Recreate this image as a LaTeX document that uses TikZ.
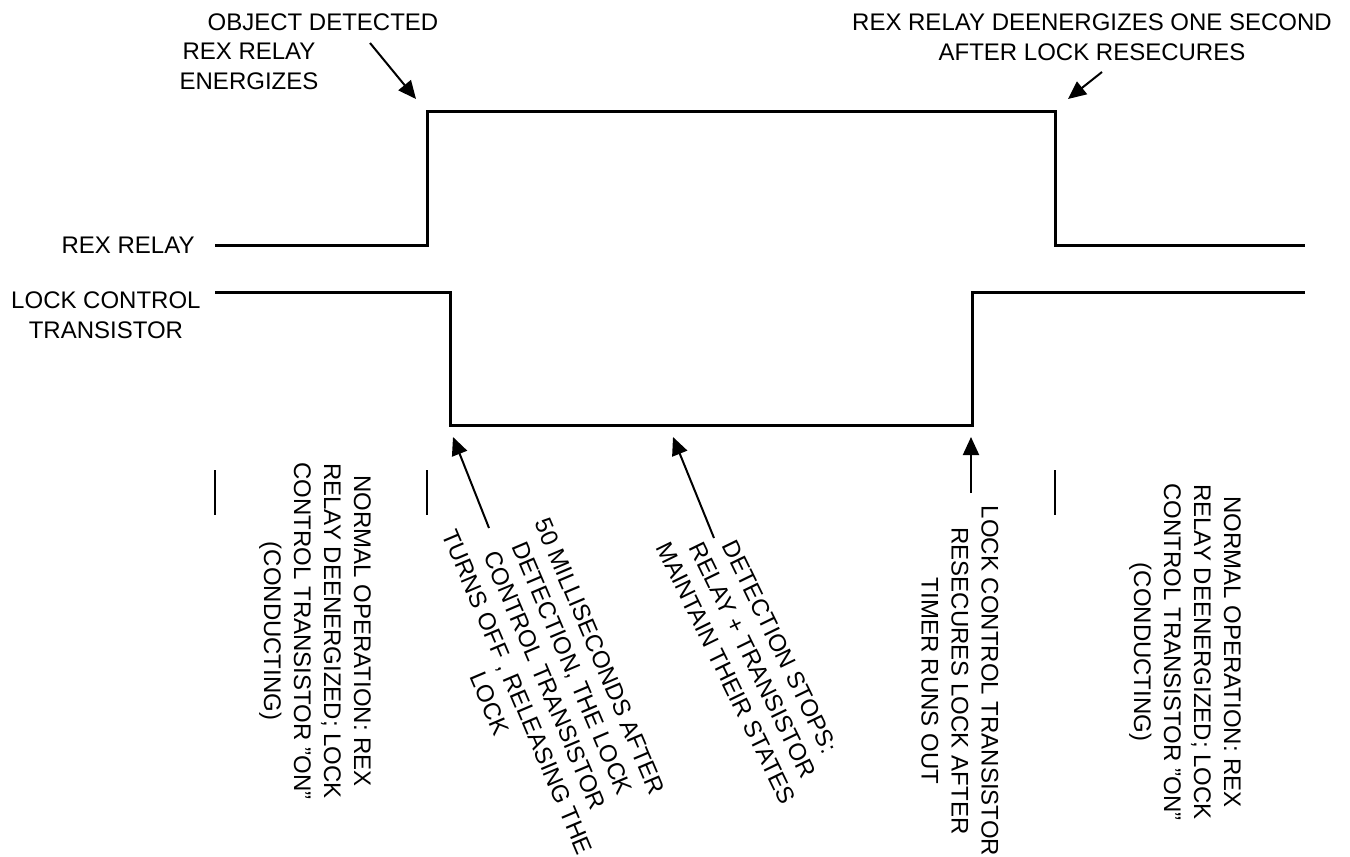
\documentclass[tikz,border=0pt]{standalone}
\usepackage{fontspec}
\setmainfont{Liberation Sans}
\usetikzlibrary{arrows.meta,positioning}
\tikzset{
    wave/.style={draw,line width=1.5pt,line join=miter},
    txt/.style={align=center,inner sep=0pt,font=\fontsize{12}{15}\selectfont},
    note/.style={txt,rotate=-90},
    pointer/.style={draw,-{Triangle[length=9pt,width=8pt]},line width=1pt},
    divider/.style={draw,line width=1.3pt},
}

\begin{document}
\begin{tikzpicture}[x=0.5pt,y=-0.5pt]
\useasboundingbox (0,0) rectangle (1350,857);

% REX relay signal
\coordinate (r0) at (215,245);
\coordinate (r1) at (427,245);
\coordinate (r2) at (427,111);
\coordinate (r3) at (1055,111);
\coordinate (r4) at (1055,245);
\coordinate (r5) at (1305,245);
\path[wave] (r0)--(r1)--(r2)--(r3)--(r4)--(r5);
\node[txt,left=10pt of r0] (rexlbl) {REX RELAY};

% lock control transistor signal
\coordinate (l0) at (215,292);
\coordinate (l1) at (450,292);
\coordinate (l2) at (450,425);
\coordinate (l3) at (972,425);
\coordinate (l4) at (972,292);
\coordinate (l5) at (1305,292);
\path[wave] (l0)--(l1)--(l2)--(l3)--(l4)--(l5);
\node[txt,anchor=north east] (locklbl) at (201,291) {LOCK CONTROL\\TRANSISTOR};

% top notes
\node[txt] (detect) at (323,22) {OBJECT DETECTED};
\node[txt] (energ) at (249,66) {REX RELAY\\ENERGIZES};
\node[txt] (deener) at (1092,37) {REX RELAY DEENERGIZES ONE SECOND\\AFTER LOCK RESECURES};

\coordinate (t1) at (370,43);
\coordinate (h1) at (416,99);
\draw[pointer] (t1)--(h1);
\coordinate (t2) at (1102,72);
\coordinate (h2) at (1068,99);
\draw[pointer] (t2)--(h2);

% phase markers
\draw[divider] (215,470)--(215,515);
\draw[divider] (427,470)--(427,515);
\draw[divider] (1055,470)--(1055,515);

% bottom notes
\node[note] (normal1) at (315,631) {NORMAL OPERATION: REX\\RELAY DEENERGIZED; LOCK\\CONTROL TRANSISTOR "ON"\\(CONDUCTING)};
\node[txt,rotate=-67] (release) at (545,680) {50 MILLISECONDS AFTER\\DETECTION, THE LOCK\\CONTROL TRANSISTOR\\TURNS OFF , RELEASING THE\\LOCK};
\node[txt,rotate=-64] (stops) at (753,660) {DETECTION STOPS:\\RELAY + TRANSISTOR\\MAINTAIN THEIR STATES};
\node[note] (resecure) at (960,681) {LOCK CONTROL TRANSISTOR\\RESECURES LOCK AFTER\\TIMER RUNS OUT};
\node[note] (normal2) at (1185,652) {NORMAL OPERATION: REX\\RELAY DEENERGIZED; LOCK\\CONTROL TRANSISTOR "ON"\\(CONDUCTING)};

\coordinate (t3) at (489,528);
\coordinate (h3) at (453,437);
\draw[pointer] (t3)--(h3);
\coordinate (t4) at (714,538);
\coordinate (h4) at (673,437);
\draw[pointer] (t4)--(h4);
\coordinate (t5) at (971,493);
\coordinate (h5) at (971,437);
\draw[pointer] (t5)--(h5);
\end{tikzpicture}
\end{document}
